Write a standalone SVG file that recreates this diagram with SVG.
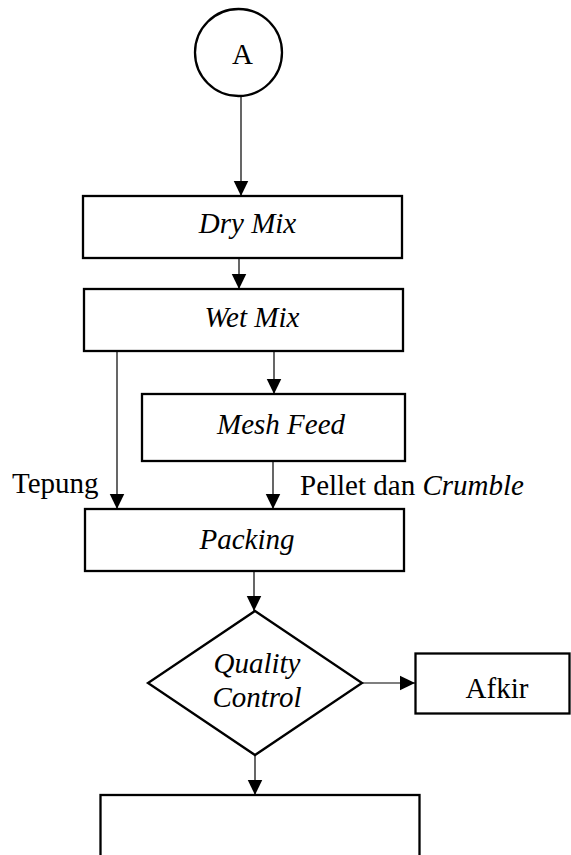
<svg xmlns="http://www.w3.org/2000/svg" width="571" height="855" viewBox="0 0 571 855">
<style>
.box{fill:#fff;stroke:#000;stroke-width:2.3}
.ln{fill:none;stroke:#000;stroke-width:1.2;marker-end:url(#ah)}
text{font-family:"Liberation Serif","Times New Roman",serif;font-size:29px;fill:#000}
.it{font-style:italic}
.c{text-anchor:middle}
</style>
<defs>
<marker id="ah" markerUnits="userSpaceOnUse" markerWidth="16" markerHeight="16" viewBox="0 0 16 16" refX="15.5" refY="8" orient="auto">
<path d="M0,0.5 L15.5,8 L0,15.5 Z" fill="#000"/>
</marker>
</defs>
<g id="connectors">
<line class="ln" x1="241" y1="96" x2="241" y2="196"/>
<line class="ln" x1="239" y1="258" x2="239" y2="289"/>
<line class="ln" x1="117" y1="351" x2="117" y2="509"/>
<line class="ln" x1="274" y1="351" x2="274" y2="394"/>
<line class="ln" x1="273" y1="461" x2="273" y2="509"/>
<line class="ln" x1="254" y1="571" x2="254" y2="611"/>
<line class="ln" x1="362" y1="683" x2="415" y2="683"/>
<line class="ln" x1="255" y1="755" x2="255" y2="795"/>
</g>
<g id="nodeA">
<circle class="box" cx="238.5" cy="52.5" r="43.5"/>
<text class="c" x="242.5" y="64">A</text>
</g>
<g id="dryMix">
<rect class="box" x="83" y="196" width="319" height="62"/>
<text class="c it" x="247.5" y="233">Dry Mix</text>
</g>
<g id="wetMix">
<rect class="box" x="84" y="289" width="319" height="62"/>
<text class="c it" x="252" y="327">Wet Mix</text>
</g>
<g id="meshFeed">
<rect class="box" x="142" y="394" width="263" height="67"/>
<text class="c it" x="281" y="434">Mesh Feed</text>
</g>
<g id="labels">
<text x="12" y="493">Tepung</text>
<text x="300" y="495">Pellet dan <tspan class="it">Crumble</tspan></text>
</g>
<g id="packing">
<rect class="box" x="85" y="509" width="319" height="62"/>
<text class="c it" x="247" y="549">Packing</text>
</g>
<g id="qc">
<polygon class="box" points="255,611 362,683 255,755 148,683"/>
<text class="c it" x="257" y="673">Quality</text>
<text class="c it" x="257" y="707">Control</text>
</g>
<g id="afkir">
<rect class="box" x="415.5" y="653.5" width="154" height="60"/>
<text class="c" x="497" y="698">Afkir</text>
</g>
<g id="bottomBox">
<rect class="box" x="100.5" y="795" width="319" height="80"/>
</g>
</svg>
